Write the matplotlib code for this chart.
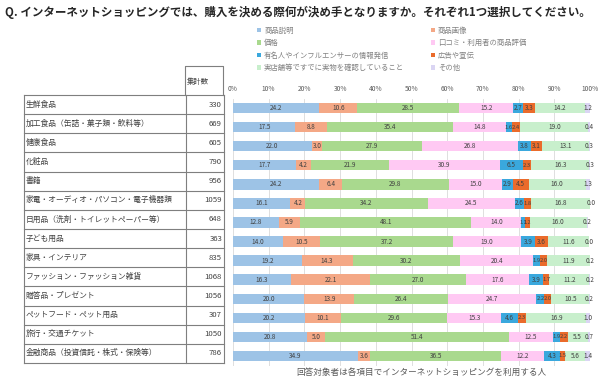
import matplotlib.pyplot as plt
import numpy as np

plt.rcParams['font.family'] = ['Noto Sans CJK JP', 'DejaVu Sans']

# --- data ---------------------------------------------------------------
TITLE = "Q. インターネットショッピングでは、購入を決める際何が決め手となりますか。それぞれ1つ選択してください。"
NOTE = "回答対象者は各項目でインターネットショッピングを利用する人"

categories = [
    "生鮮食品",
    "加工食品（缶詰・菓子類・飲料等）",
    "健康食品",
    "化粧品",
    "書籍",
    "家電・オーディオ・パソコン・電子機器類",
    "日用品（洗剤・トイレットペーパー等）",
    "子ども用品",
    "家具・インテリア",
    "ファッション・ファッション雑貨",
    "贈答品・プレゼント",
    "ペットフード・ペット用品",
    "旅行・交通チケット",
    "金融商品（投資信託・株式・保険等）",
]
counts = [330, 669, 605, 790, 956, 1059, 648, 363, 835, 1068, 1056, 307, 1050, 786]

series_names = [
    "商品説明",
    "商品画像",
    "価格",
    "口コミ・利用者の商品評価",
    "有名人やインフルエンサーの情報発信",
    "広告や宣伝",
    "実店舗等ですでに実物を確認していること",
    "その他",
]

setsumei = [24.2, 17.5, 22.0, 17.7, 24.2, 16.1, 12.8, 14.0, 19.2, 16.3, 20.0, 20.2, 20.8, 34.9]
gazou = [10.6, 8.8, 3.0, 4.2, 6.4, 4.2, 5.9, 10.5, 14.3, 22.1, 13.9, 10.1, 5.0, 3.6]
kakaku = [28.5, 35.4, 27.9, 21.9, 29.8, 34.2, 48.1, 37.2, 30.2, 27.0, 26.4, 29.6, 51.4, 36.5]
kuchikomi = [15.2, 14.8, 26.8, 30.9, 15.0, 24.5, 14.0, 19.0, 20.4, 17.6, 24.7, 15.3, 12.5, 12.2]
influencer = [2.7, 1.6, 3.8, 6.5, 2.9, 2.6, 1.1, 3.9, 1.9, 3.9, 2.2, 4.6, 1.9, 4.3]
koukoku = [3.3, 2.4, 3.1, 2.3, 4.5, 1.8, 1.2, 3.6, 2.0, 1.7, 2.0, 2.3, 2.2, 1.5]
jitsubutsu = [14.2, 19.0, 13.1, 16.3, 16.0, 16.8, 16.0, 11.6, 11.9, 11.2, 10.5, 16.9, 5.5, 5.6]
sonota = [1.2, 0.4, 0.3, 0.3, 1.3, 0.0, 0.2, 0.0, 0.2, 0.2, 0.2, 1.0, 0.7, 1.4]

series = [setsumei, gazou, kakaku, kuchikomi, influencer, koukoku, jitsubutsu, sonota]
colors = ["#9DC3E6", "#F4A886", "#A9D98E", "#FFC9F3",
          "#3AA8DD", "#EA6B2B", "#C8EFCC", "#DAD5F3"]

# --- figure -------------------------------------------------------------
W, H = 600, 380
fig = plt.figure(figsize=(W / 100, H / 100), dpi=100)

# stacked bars
ax = fig.add_axes([233 / W, 1 - 365.5 / H, 357 / W, 267 / H])
y = np.arange(len(categories))
left = np.zeros(len(categories))
handles = []
for k, (name, vals, color) in enumerate(zip(series_names, series, colors)):
    vals = np.array(vals)
    h = ax.barh(y, vals, left=left, height=0.55, color=color, label=name, zorder=2)
    handles.append(h)
    for yi, v, l in zip(y, vals, left):
        # narrow segments in the middle get a smaller label
        if k < len(series) - 1 and v < 1.5:
            fs = 3.8
        elif k < len(series) - 1 and v < 2.5:
            fs = 4.2
        else:
            fs = 4.6
        ax.text(l + v / 2, yi, f"{v:.1f}", ha="center", va="center",
                fontsize=fs, color="#404040", zorder=3)
    left += vals

ax.set_xlim(0, 100)
ax.set_ylim(len(categories) - 0.5, -0.5)
ax.set_xticks(np.arange(0, 101, 10))
ax.set_xticklabels([f"{t}%" for t in range(0, 101, 10)], fontsize=4.8, color="#595959")
ax.xaxis.tick_top()
ax.tick_params(axis="x", length=0, pad=4)
ax.set_yticks([])
ax.grid(axis="x", color="#D9D9D9", linewidth=0.6, zorder=0)
ax.set_axisbelow(True)
for s in ax.spines.values():
    s.set_visible(False)

# table on the left
tax = fig.add_axes([24 / W, 1 - 363 / H, 200 / W, 268 / H])
tax.set_xlim(0, 200)
tax.set_ylim(len(categories), 0)
tax.axis("off")
for i in range(len(categories) + 1):
    tax.plot([0, 200], [i, i], color="#7F7F7F", linewidth=0.8, clip_on=False)
for xv in (0, 162, 200):
    tax.plot([xv, xv], [0, len(categories)], color="#7F7F7F", linewidth=0.8, clip_on=False)
for i, (cat, n) in enumerate(zip(categories, counts)):
    tax.text(2, i + 0.5, cat, ha="left", va="center", fontsize=5.6, color="#404040")
    tax.text(198, i + 0.5, str(n), ha="right", va="center", fontsize=5.6, color="#404040")

# header box for counts
top = -(95 - 66) / 19.14
tax.plot([161, 161, 199, 199], [0, top, top, 0], color="#7F7F7F", linewidth=0.8, clip_on=False)
tax.text(163, top / 2 + 0.1, "集計数", ha="left", va="center", fontsize=5.3, color="#404040")

# legend, filled row by row like the original
order = [0, 2, 4, 6, 1, 3, 5, 7]
fig.legend([handles[i] for i in order], [series_names[i] for i in order],
           ncol=2, loc="upper left", bbox_to_anchor=(250 / W, 1 - 20 / H),
           frameon=False, fontsize=5.3, handlelength=0.6, handleheight=0.6,
           handletextpad=0.4, labelspacing=0.62, columnspacing=3.6,
           labelcolor="#808080")

fig.text(5 / W, 1 - 12 / H, TITLE, ha="left", va="center", fontsize=8.3,
         fontweight="bold", color="#262626")
fig.text(421 / W, 1 - 372 / H, NOTE, ha="center", va="center", fontsize=6.2,
         color="#595959")

fig.savefig("out.png", dpi=100)
